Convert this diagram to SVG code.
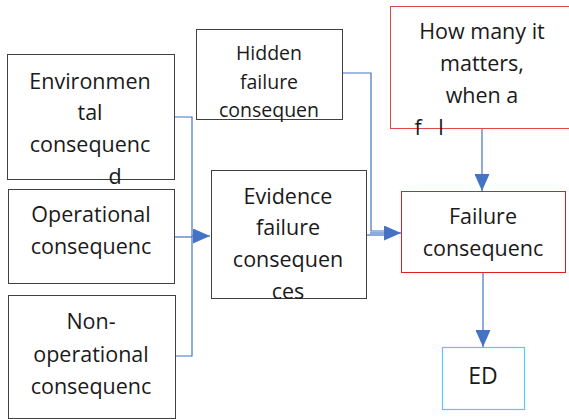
<svg xmlns="http://www.w3.org/2000/svg" width="569" height="419" viewBox="0 0 569 419">
<style>
.box{fill:#fff;stroke:#404040;stroke-width:1}
.red{fill:#fff;stroke:#e02020;stroke-width:1}
.pink{fill:#fff;stroke:#e04848;stroke-width:1}
.cyan{fill:#fff;stroke:#5cc8f0;stroke-width:1.2}
.t{font-family:"Open Sans","Noto Sans",sans-serif;font-size:21.5px;fill:#1a1a1a;text-anchor:middle}
.s{font-size:19.5px}
.c{fill:none;stroke:#4472C4;stroke-width:1.2}
</style>
<defs>
<marker id="ah" markerWidth="17" markerHeight="15" refX="17" refY="7.5" orient="auto" markerUnits="userSpaceOnUse">
<path d="M0,0 L17,7.5 L0,15 Z" fill="#4472C4"/>
</marker>
</defs>
<g id="connectors">
<path class="c" d="M174,117 H192 V356 H175"/>
<path class="c" d="M174,237 H192"/>
<path class="c" d="M192,236 H210" marker-end="url(#ah)"/>
<path class="c" d="M342,73 H371 V231 H384"/>
<path class="c" d="M366,235 H384"/>
<path class="c" d="M370,233 H401" marker-end="url(#ah)"/>
<path class="c" d="M482,128 V191" marker-end="url(#ah)"/>
<path class="c" d="M483,272 V347" marker-end="url(#ah)"/>
</g>
<g id="environmental">
<rect class="box" x="7.5" y="54.5" width="167" height="125"/>
<text class="t" x="90" y="89">Environmen</text>
<text class="t" x="90" y="120">tal</text>
<text class="t" x="90" y="152">consequenc</text>
<text class="t" x="115" y="184">d</text>
</g>
<g id="operational">
<rect class="box" x="8.5" y="189.5" width="166" height="94"/>
<text class="t" x="91" y="222">Operational</text>
<text class="t" x="91" y="254">consequenc</text>
</g>
<g id="nonoperational">
<rect class="box" x="8.5" y="295.5" width="167" height="123"/>
<text class="t" x="91" y="329">Non-</text>
<text class="t" x="91" y="362">operational</text>
<text class="t" x="91" y="394">consequenc</text>
</g>
<g id="hidden">
<rect class="box" x="196.5" y="29.5" width="146" height="90"/>
<text class="t s" x="269" y="60">Hidden</text>
<text class="t s" x="269" y="89">failure</text>
<text class="t s" x="269" y="117">consequen</text>
</g>
<g id="evidence">
<rect class="box" x="211.5" y="170.5" width="155" height="128"/>
<text class="t" x="288" y="204">Evidence</text>
<text class="t" x="288" y="235">failure</text>
<text class="t" x="288" y="267">consequen</text>
<text class="t" x="288" y="299">ces</text>
</g>
<g id="howmany">
<rect class="pink" x="390.5" y="6.5" width="180" height="122"/>
<text class="t" x="482" y="39">How many it</text>
<text class="t" x="482" y="71">matters,</text>
<text class="t" x="482" y="103">when a</text>
<text class="t" x="418" y="135">f</text>
<text class="t" x="441" y="135">l</text>
</g>
<g id="failure">
<rect class="red" x="401.5" y="191.5" width="164" height="81"/>
<text class="t" x="483" y="224">Failure</text>
<text class="t" x="483" y="256">consequenc</text>
</g>
<g id="ed">
<rect class="cyan" x="442.5" y="347.5" width="82" height="62"/>
<text class="t" x="483" y="384" style="font-size:23px">ED</text>
</g>
</svg>
